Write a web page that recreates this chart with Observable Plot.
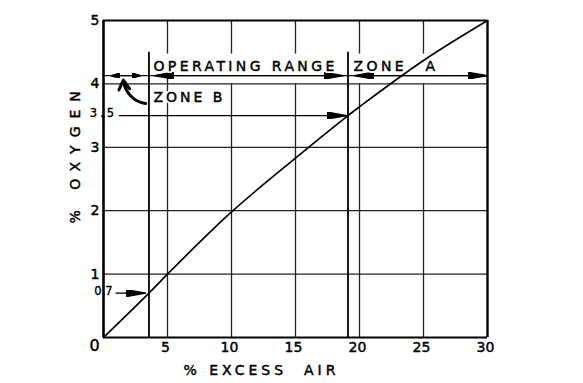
<!DOCTYPE html>
<html><head><meta charset="utf-8">
<script src="https://cdn.jsdelivr.net/npm/d3@7"></script>
<script src="https://cdn.jsdelivr.net/npm/@observablehq/plot@0.6"></script>
<style>body{margin:0;background:#fff}</style>
</head><body><div id="chart"></div>
<script>
// curve: % oxygen vs % excess air
const excessAir = [0, 3.55, 5, 10, 15, 19.1, 20, 25, 30];
const oxygen    = [0, 0.7, 1.0, 1.98, 2.83, 3.5, 3.64, 4.37, 5];

const xTicks = [5, 10, 15, 20, 25, 30];
const yTicks = [1, 2, 3, 4, 5];
const gridX = [5, 10, 15, 20, 25];
const gridY = [1, 2, 3, 4];

// annotation anchors (data units)
const zoneLines = [3.55, 19.1];
const zoneRowO2 = 4.13;
const readoutO2 = [0.7, 3.5];
const readoutLabels = ["0.7", "3.5"];
const readoutFrom = [0.95, 1.2];
const readoutTo = [3.3, 19.0];
const zoneTexts = ["OPERATING RANGE", "ZONE", "A", "ZONE B"];
const zoneTextX = [3.9, 19.53, 25.15, 3.9];
const zoneTextY = [4.27, 4.27, 4.27, 3.78];
const smallArrowFrom = [1.8, 1.8];
const smallArrowTo = [0.55, 2.95];
const bigArrowFrom = [11, 11, 24, 24];
const bigArrowTo = [3.92, 18.75, 19.55, 30];

const curve = excessAir.map((x, i) => ({x, y: oxygen[i]}));
const readouts = readoutO2.map((y, i) => ({y, label: readoutLabels[i], x1: readoutFrom[i], x2: readoutTo[i]}));
const zoneLabelData = zoneTexts.map((t, i) => ({t, x: zoneTextX[i], y: zoneTextY[i]}));
const smallArrows = smallArrowFrom.map((a, i) => ({x1: a, x2: smallArrowTo[i]}));
const bigArrows = bigArrowFrom.map((a, i) => ({x1: a, x2: bigArrowTo[i]}));

const NS = "http://www.w3.org/2000/svg";
function wedge(len, half) {
  return () => {
    const m = document.createElementNS(NS, "marker");
    m.setAttribute("viewBox", `${-len} ${-half} ${len} ${2 * half}`);
    m.setAttribute("markerWidth", len);
    m.setAttribute("markerHeight", 2 * half);
    m.setAttribute("markerUnits", "userSpaceOnUse");
    m.setAttribute("orient", "auto");
    m.setAttribute("refX", 0);
    m.setAttribute("refY", 0);
    const p = document.createElementNS(NS, "path");
    p.setAttribute("d", `M0,0L${-len},${-half}L${-len},${half}Z`);
    p.setAttribute("fill", "black");
    m.appendChild(p);
    return m;
  };
}

const FONT = "DejaVu Sans";
const grid = {stroke: "#222", strokeWidth: 1.3};
const ink = {fill: "black", stroke: "black", strokeWidth: 0.45};

const chart = Plot.plot({
  width: 583, height: 383,
  marginLeft: 103, marginRight: 96, marginTop: 20, marginBottom: 46,
  x: {domain: [0, 30], axis: null},
  y: {domain: [0, 5], axis: null},
  style: {fontFamily: FONT, background: "white", color: "black"},
  marks: [
    // grid
    Plot.ruleY(gridY, {x1: 0, x2: 30, ...grid}),
    Plot.ruleX(gridX, {y1: 0, y2: 4, ...grid}),
    Plot.ruleX(gridX, {y1: 4.47, y2: 5, ...grid}),
    Plot.ruleX([5], {y1: 4, y2: zoneRowO2, ...grid}),
    // zone row line
    Plot.ruleY([zoneRowO2], {x1: 0, x2: 30, stroke: "#111", strokeWidth: 1.2}),
    // zone boundaries
    Plot.ruleX(zoneLines, {y1: 0, y2: 4.5, stroke: "black", strokeWidth: 1.8}),
    // frame
    Plot.ruleX([0], {y1: 0, y2: 5, stroke: "black", strokeWidth: 2.6}),
    Plot.ruleX([30], {y1: 0, y2: 5, stroke: "black", strokeWidth: 2.4}),
    Plot.ruleY([0, 5], {x1: 0, x2: 30, stroke: "black", strokeWidth: 1.8}),
    // curve
    Plot.line(curve, {x: "x", y: "y", curve: "catmull-rom", stroke: "black", strokeWidth: 1.7}),
    // readout arrows
    Plot.link(readouts, {x1: "x1", x2: "x2", y1: "y", y2: "y", stroke: "black", strokeWidth: 1.3, markerEnd: wedge(20, 3.6)}),
    // zone arrows
    Plot.link(smallArrows, {x1: "x1", x2: "x2", y1: () => zoneRowO2, y2: () => zoneRowO2, stroke: "black", strokeWidth: 1.2, markerEnd: wedge(9, 2.6)}),
    Plot.link(bigArrows, {x1: "x1", x2: "x2", y1: () => zoneRowO2, y2: () => zoneRowO2, stroke: "black", strokeWidth: 1.2, markerEnd: wedge(20, 3.6)}),
    // curved pointer to Zone B
    Plot.arrow([{x1: 3.3, y1: 3.69, x2: 1.55, y2: 4.06}], {x1: "x1", y1: "y1", x2: "x2", y2: "y2", bend: 38, stroke: "black", strokeWidth: 3, headLength: 9, headAngle: 60}),
    // zone labels: white halo, then ink
    Plot.text(zoneLabelData, {x: "x", y: "y", text: "t", textAnchor: "start", fontSize: 14, fill: "white", stroke: "white", strokeWidth: 4}),
    Plot.text(zoneLabelData, {x: "x", y: "y", text: "t", textAnchor: "start", fontSize: 14, ...ink}),
    // readout labels
    Plot.text(readouts, {x: () => 0, y: "y", text: "label", fontSize: 11.5, dy: -2, ...ink, strokeWidth: 0.35}),
    // tick labels
    Plot.text(yTicks, {x: () => 0, y: d => d, text: d => String(d), textAnchor: "end", dx: -4, fontSize: 14, ...ink}),
    Plot.text(xTicks, {x: d => d, y: () => 0, text: d => String(d), dy: 10, dx: -2, fontSize: 14, ...ink}),
    Plot.text([0], {x: () => 0, y: () => 0, text: () => "0", dx: -9, dy: 8, fontSize: 16, ...ink}),
    // axis titles
    Plot.text(["% EXCESS  AIR"], {x: () => 6.25, y: () => -0.52, text: d => d, textAnchor: "start", fontSize: 14, ...ink}),
    Plot.text(["% OXYGEN"], {x: () => -2.19, y: () => 1.8, text: d => d, textAnchor: "start", rotate: -90, fontSize: 14, ...ink})
  ]
});

document.getElementById("chart").appendChild(chart);

const spacing = {"% EXCESS  AIR": 4, "% OXYGEN": 8, "OPERATING RANGE": 3.4, "ZONE": 3.4, "ZONE B": 3, "3.5": 3, "0.7": 0};
d3.select(chart).selectAll("text").each(function () {
  const t = this.textContent;
  if (t in spacing) {
    this.setAttribute("letter-spacing", spacing[t]);
    this.style.whiteSpace = "pre";
  }
});
</script>
</body></html>
